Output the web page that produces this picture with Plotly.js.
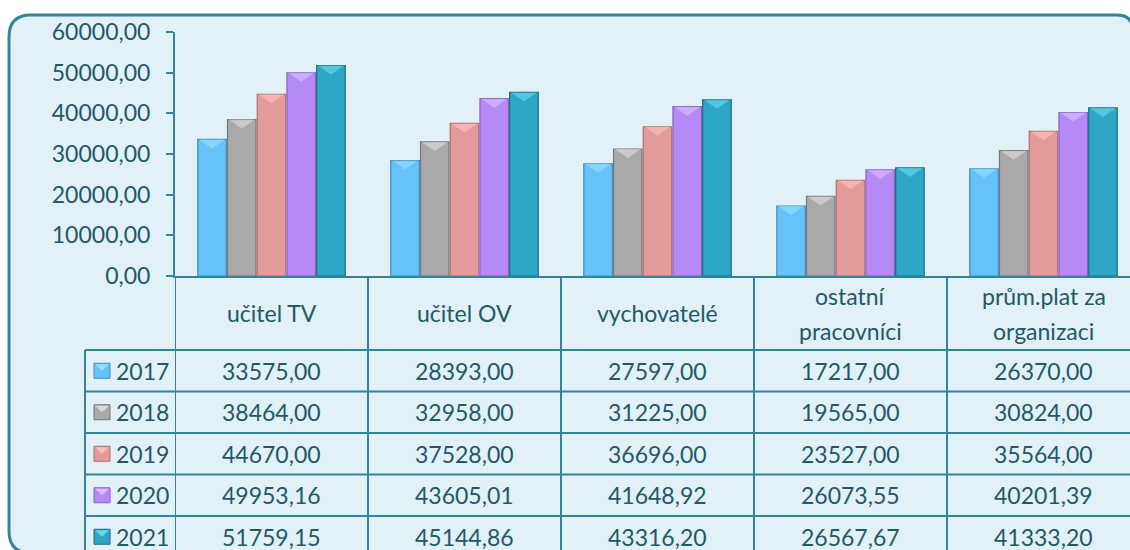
<!DOCTYPE html>
<html>
<head>
<meta charset="utf-8">
<script src="https://cdn.plot.ly/plotly-3.0.1.min.js"></script>
<style>
html,body{margin:0;padding:0;overflow:hidden;background:#ffffff;}
#chart{width:1130px;height:550px;}
</style>
</head>
<body>
<div id="chart"></div>
<script>
// ---- data ----
const categories = ['učitel TV', 'učitel OV', 'vychovatelé', 'ostatní<br>pracovníci', 'prům.plat za<br>organizaci'];
const years = ['2017', '2018', '2019', '2020', '2021'];
const v2017 = [33575.00, 28393.00, 27597.00, 17217.00, 26370.00];
const v2018 = [38464.00, 32958.00, 31225.00, 19565.00, 30824.00];
const v2019 = [44670.00, 37528.00, 36696.00, 23527.00, 35564.00];
const v2020 = [49953.16, 43605.01, 41648.92, 26073.55, 40201.39];
const v2021 = [51759.15, 45144.86, 43316.20, 26567.67, 41333.20];
const yTickVals = [0, 10000, 20000, 30000, 40000, 50000, 60000];

// ---- styling ----
const series = [v2017, v2018, v2019, v2020, v2021];
const fills = ['#66c2f9', '#a9a9a9', '#e29a9a', '#b68af6', '#2ea6c6'];
const edges = ['#3d8fc2', '#777777', '#b06e6e', '#8762c4', '#1c6a80'];
const tops  = ['#9fe6ff', '#e6e6e6', '#ffc8c4', '#e2c8ff', '#6fe3f6'];
const textColor = '#215968';
const lineColor = '#31849b';
const FONT = 'Lato, "Open Sans", sans-serif';
const FS = 23;

// pixel geometry of the plot area
const W = 1130, Hh = 550;
const L = 175, T = 32, PW = W - L, PH = 244;
const CW = 193;                       // pixel width of one category column
const xMax = -0.5 + PW / CW;          // table continues past the right edge
const xf = px => (px - L) / PW;
const yf = py => (T + PH - py) / PH;

const traces = series.map((vals, j) => ({
  type: 'bar',
  name: years[j],
  x: categories,
  y: vals,
  marker: {color: fills[j], line: {color: edges[j], width: 1.2}},
  hoverinfo: 'x+y+name'
}));

const shapes = [];
const annotations = [];

// frame (rounded on the visible corners, runs past the right and bottom edges)
(function(){
  const x0 = 9, y0 = 15, x1 = 1133, y1 = 553, r = 22, rr = 16;
  const X = v => xf(v), Y = v => yf(v);
  const p = `M ${X(x0+r)} ${Y(y0)} L ${X(x1-rr)} ${Y(y0)} Q ${X(x1)} ${Y(y0)} ${X(x1)} ${Y(y0+rr)} ` +
            `L ${X(x1+2)} ${Y(y1+2)} L ${X(x0+r)} ${Y(y1)} ` +
            `Q ${X(x0)} ${Y(y1)} ${X(x0)} ${Y(y1-r)} L ${X(x0)} ${Y(y0+r)} Q ${X(x0)} ${Y(y0)} ${X(x0+r)} ${Y(y0)} Z`;
  shapes.push({type: 'path', xref: 'paper', yref: 'paper', path: p, layer: 'below',
               fillcolor: '#e1f1f7', line: {color: lineColor, width: 3}});
})();

// table geometry
const headerTop = 276, headerBottom = 350, rowH = 41.5;
const rowBounds = [];
for (let k = 0; k <= years.length; k++) rowBounds.push(headerBottom + k * rowH);

// vertical table lines at category boundaries
for (let i = 0; i < categories.length; i++) {
  shapes.push({type: 'line', xref: 'x', yref: 'paper', x0: i - 0.5, x1: i - 0.5,
               y0: yf(headerTop), y1: yf(rowBounds[rowBounds.length - 1]),
               line: {color: lineColor, width: 2}});
}
// left edge of legend column
shapes.push({type: 'line', xref: 'paper', yref: 'paper', x0: xf(85), x1: xf(85),
             y0: yf(headerBottom), y1: yf(rowBounds[rowBounds.length - 1]),
             line: {color: lineColor, width: 2}});
// horizontal row lines
rowBounds.forEach(b => {
  shapes.push({type: 'line', xref: 'paper', yref: 'paper', x0: xf(85), x1: xf(1140),
               y0: yf(b), y1: yf(b), line: {color: lineColor, width: 2}});
});

// header labels
categories.forEach((c, i) => {
  const lines = c.split('<br>');
  const mid = (headerTop + headerBottom) / 2;
  const gap = 35;
  lines.forEach((ln, k) => {
    const py = mid + (k - (lines.length - 1) / 2) * gap;
    annotations.push({xref: 'x', yref: 'paper', x: c, y: yf(py), text: ln, showarrow: false,
                      xanchor: 'center', yanchor: 'middle',
                      font: {family: FONT, size: FS, color: textColor}});
  });
});

// table values + legend keys
const fmt = v => v.toFixed(2).replace('.', ',');
series.forEach((vals, j) => {
  const cy = (rowBounds[j] + rowBounds[j + 1]) / 2;
  vals.forEach((v, i) => {
    annotations.push({xref: 'x', yref: 'paper', x: categories[i], y: yf(cy), text: fmt(v),
                      showarrow: false, xanchor: 'center', yanchor: 'middle',
                      font: {family: FONT, size: FS, color: textColor}});
  });
  annotations.push({xref: 'paper', yref: 'paper', x: xf(114), y: yf(cy), text: years[j],
                    showarrow: false, xanchor: 'left', yanchor: 'middle',
                    font: {family: FONT, size: FS, color: textColor}});
  // legend key
  shapes.push({type: 'rect', xref: 'paper', yref: 'paper', x0: xf(94), x1: xf(110),
               y0: yf(cy - 7.5), y1: yf(cy + 7.5), fillcolor: fills[j],
               line: {color: edges[j], width: 1}});
  shapes.push({type: 'path', xref: 'paper', yref: 'paper',
               path: `M ${xf(95)} ${yf(cy - 6.5)} L ${xf(109)} ${yf(cy - 6.5)} L ${xf(102)} ${yf(cy)} Z`,
               fillcolor: tops[j], opacity: 0.8, line: {width: 0}});
});

// bevel highlight at top of each bar (derived from the data and bar layout)
const bargap = 0.23, bargroupgap = 0.04;
const slot = (1 - bargap) / series.length;
const bw = slot * (1 - bargroupgap);
const bevelH = 9 * 60000 / PH;
series.forEach((vals, j) => {
  vals.forEach((v, i) => {
    const cx = i - (1 - bargap) / 2 + slot * (j + 0.5);
    const xa = cx - bw / 2 + 0.006, xb = cx + bw / 2 - 0.006;
    shapes.push({type: 'path', xref: 'x', yref: 'y', layer: 'above',
                 path: `M ${xa} ${v} L ${xb} ${v} L ${cx} ${v - bevelH} Z`,
                 fillcolor: tops[j], opacity: 0.55, line: {width: 0}});
  });
});

const layout = {
  width: W, height: Hh,
  margin: {l: L, r: 0, t: T, b: Hh - T - PH, pad: 0},
  paper_bgcolor: '#ffffff',
  plot_bgcolor: 'rgba(0,0,0,0)',
  barmode: 'group', bargap: bargap, bargroupgap: bargroupgap,
  showlegend: false,
  separators: ',.',
  font: {family: FONT, size: FS, color: textColor},
  xaxis: {type: 'category', range: [-0.5, xMax], showticklabels: false,
          showgrid: false, zeroline: false, showline: true, linecolor: lineColor, linewidth: 2,
          ticks: '', fixedrange: true},
  yaxis: {range: [0, 60000], tickvals: yTickVals, tickformat: '.2f', showgrid: false,
          zeroline: false, showline: true, linecolor: lineColor, linewidth: 2,
          ticks: 'outside', ticklen: 7, tickwidth: 2, tickcolor: lineColor,
          ticklabelstandoff: 11,
          tickfont: {family: FONT, size: FS, color: textColor}, fixedrange: true},
  shapes: shapes,
  annotations: annotations
};

Plotly.newPlot('chart', traces, layout, {displayModeBar: false, staticPlot: true});
</script>
</body>
</html>
